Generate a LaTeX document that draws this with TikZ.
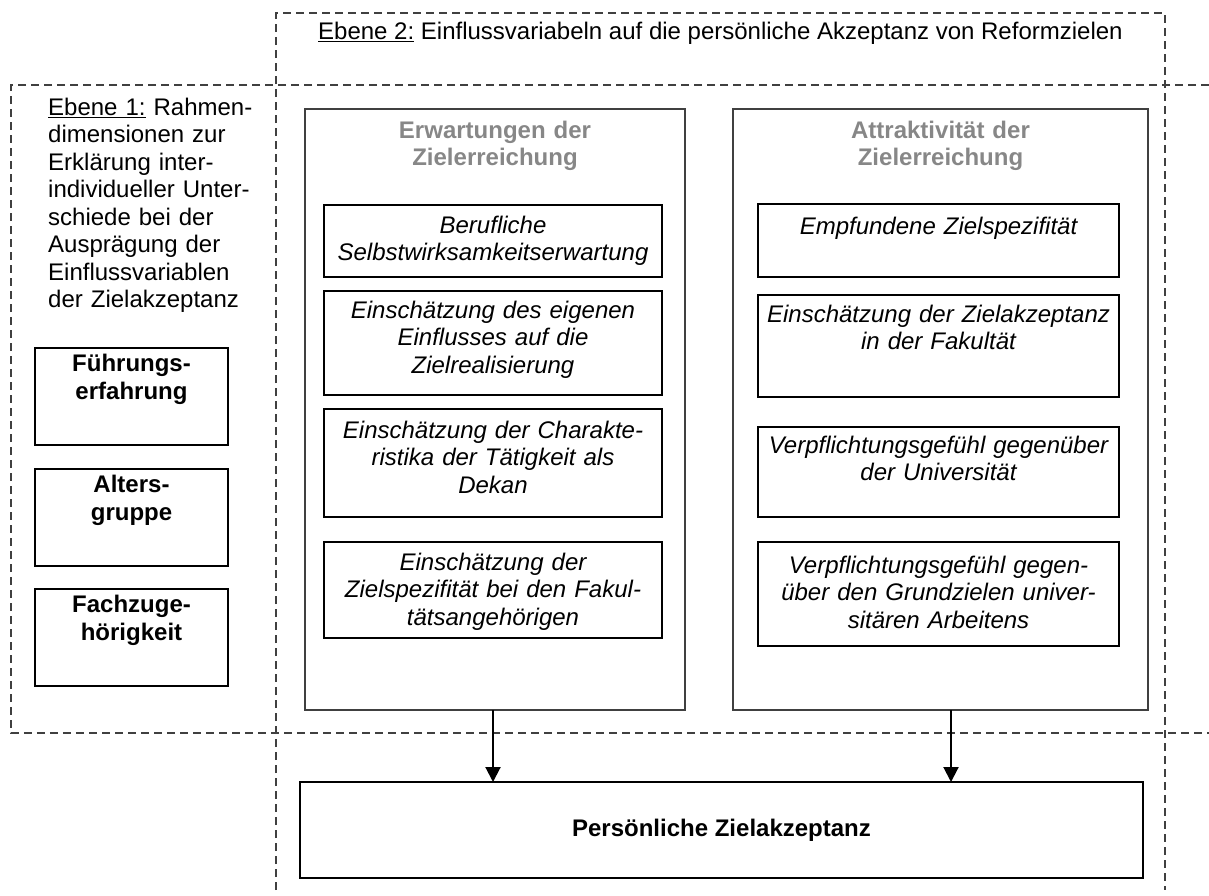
\documentclass[tikz,border=0pt]{standalone}
\usepackage{fontspec}
\setmainfont{Liberation Sans}
\usetikzlibrary{arrows.meta,calc}
\definecolor{framegray}{RGB}{64,64,64}
\definecolor{titlegray}{RGB}{135,135,135}
\definecolor{dashgray}{RGB}{64,64,64}
% underline with a rule thick enough for the large picture scale
\newcommand\ulword[1]{\setbox0\hbox{#1}\rlap{\rule[-3pt]{\wd0}{1.5pt}}\box0\relax}
\begin{document}
\begin{tikzpicture}[x=1pt,y=-1pt,
  font=\fontsize{24}{27.5}\selectfont,
  region/.style={draw=dashgray,line width=1.5pt,dash pattern=on 8pt off 5pt},
  groupbox/.style={draw=framegray,line width=1.6pt,inner sep=0pt,outer sep=0pt},
  itembox/.style={draw=black,line width=2pt,inner sep=0pt,outer sep=0pt},
  grouptitle/.style={anchor=base,text width=400pt,align=center,inner sep=0pt,
    text=titlegray,font=\fontsize{24}{27.5}\selectfont\bfseries},
  itemtext/.style={anchor=base,text width=400pt,align=center,inner sep=0pt,
    font=\fontsize{24}{27.5}\selectfont\itshape},
  factortext/.style={anchor=base,text width=190pt,align=center,inner sep=0pt,
    font=\fontsize{24}{28}\selectfont\bfseries},
  flow/.style={line width=2pt,-{Triangle[length=15pt,width=15pt]}}]
\useasboundingbox (0,0) rectangle (1209,895);

% dashed regions of the two levels
\draw[region] (276,890) -- (276,13) -- (1165,13) -- (1165,890);
\draw[region] (1209,85) -- (11,85) -- (11,733) -- (1209,733);

% level texts
\node[anchor=base west,inner sep=0pt] (lvl2) at (318,39)
  {\ulword{Ebene 2:} Einflussvariabeln auf die persönliche Akzeptanz von Reformzielen};
\node[anchor=base west,inner sep=0pt,text width=240pt,align=left] (lvl1) at (48,115)
  {\ulword{Ebene 1:} Rahmen-\\dimensionen zur\\Erklärung inter-\\individueller Unter-\\schiede bei der\\Ausprägung der\\Einflussvariablen\\der Zielakzeptanz};

% framework dimensions
\node[itembox,minimum width=193pt,minimum height=97pt] (f1) at (131.5,396.5) {};
\node[itembox,minimum width=193pt,minimum height=97pt] (f2) at (131.5,517.5) {};
\node[itembox,minimum width=193pt,minimum height=97pt] (f3) at (131.5,637.5) {};
\node[factortext] (f1t) at ($(f1.north)+(0,23)$) {Führungs-\\erfahrung};
\node[factortext] (f2t) at ($(f2.north)+(0,23)$) {Alters-\\gruppe};
\node[factortext] (f3t) at ($(f3.north)+(0,23)$) {Fachzuge-\\hörigkeit};

% expectation group
\node[groupbox,minimum width=380pt,minimum height=601pt] (gE) at (495,409.5) {};
\node[grouptitle] (gEt) at ($(gE.north)+(0,29)$) {Erwartungen der\\Zielerreichung};
\node[itembox,minimum width=338pt,minimum height=72pt] (e1) at (493,241) {};
\node[itembox,minimum width=338pt,minimum height=104pt] (e2) at (493,343) {};
\node[itembox,minimum width=338pt,minimum height=108pt] (e3) at (493,463) {};
\node[itembox,minimum width=338pt,minimum height=96pt] (e4) at (493,590) {};
\node[itemtext] (e1t) at ($(e1.north)+(0,28)$) {Berufliche\\Selbstwirksamkeitserwartung};
\node[itemtext] (e2t) at ($(e2.north)+(0,27)$) {Einschätzung des eigenen\\Einflusses auf die\\Zielrealisierung};
\node[itemtext] (e3t) at ($(e3.north)+(0,29)$) {Einschätzung der Charakte-\\ristika der Tätigkeit als\\Dekan};
\node[itemtext] (e4t) at ($(e4.north)+(0,28)$) {Einschätzung der\\Zielspezifität bei den Fakul-\\tätsangehörigen};

% attractiveness group
\node[groupbox,minimum width=415pt,minimum height=601pt] (gA) at (940.5,409.5) {};
\node[grouptitle] (gAt) at ($(gA.north)+(0,29)$) {Attraktivität der\\Zielerreichung};
\node[itembox,minimum width=361pt,minimum height=73pt] (a1) at (938.5,240.5) {};
\node[itembox,minimum width=361pt,minimum height=102pt] (a2) at (938.5,346) {};
\node[itembox,minimum width=361pt,minimum height=90pt] (a3) at (938.5,472) {};
\node[itembox,minimum width=361pt,minimum height=104pt] (a4) at (938.5,594) {};
\node[itemtext] (a1t) at ($(a1.north)+(0,30)$) {Empfundene Zielspezifität};
\node[itemtext] (a2t) at ($(a2.north)+(0,27)$) {Einschätzung der Zielakzeptanz\\in der Fakultät};
\node[itemtext] (a3t) at ($(a3.north)+(0,26)$) {Verpflichtungsgefühl gegenüber\\der Universität};
\node[itemtext] (a4t) at ($(a4.north)+(0,31)$) {Verpflichtungsgefühl gegen-\\über den Grundzielen univer-\\sitären Arbeitens};

% outcome
\node[itembox,minimum width=843pt,minimum height=96pt,font=\fontsize{24}{27.5}\selectfont\bfseries] (acc) at (721.5,830) {Persönliche Zielakzeptanz};

% influences of both groups on the outcome
\coordinate (eOut) at ($(gE.south)+(-2,0)$);
\coordinate (aOut) at ($(gA.south)+(10.5,0)$);
\draw[flow] (eOut) -- (eOut |- acc.north);
\draw[flow] (aOut) -- (aOut |- acc.north);
\end{tikzpicture}
\end{document}
